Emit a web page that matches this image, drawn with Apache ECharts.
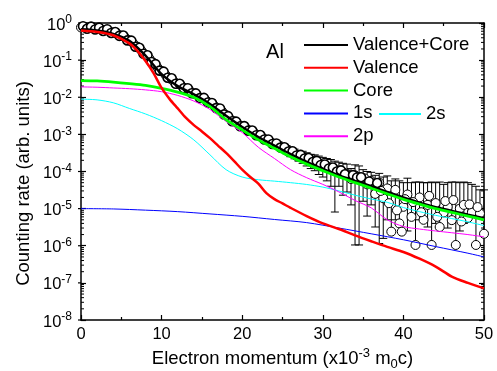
<!DOCTYPE html>
<html><head><meta charset="utf-8">
<script src="https://cdn.jsdelivr.net/npm/echarts@6/dist/echarts.min.js"></script>
<style>html,body{margin:0;padding:0;background:#fff}#c{width:497px;height:371px}</style>
</head><body><div id="c"></div>
<script>
const FONT = "'Liberation Sans', Arial, sans-serif";

// x grid shared by Valence+Core, Core, 2s, 2p
const lineX = [0,2,4,6,8,10,12,14,16,18,20,22,24,26,28,30,32,34,36,38,40,42,44,46,48,50];
const total = [6.8e-1,6.3e-1,5.1e-1,3.3e-1,1.32e-1,4.2e-2,2.0e-2,1.2e-2,6.6e-3,3.16e-3,1.58e-3,8.5e-4,5.0e-4,2.95e-4,1.82e-4,1.17e-4,7.9e-5,5.6e-5,4.0e-5,2.82e-5,2.0e-5,1.45e-5,1.1e-5,8.7e-6,6.9e-6,5.5e-6];
const core = [2.82e-2,2.75e-2,2.57e-2,2.34e-2,2.09e-2,1.74e-2,1.38e-2,1.0e-2,5.6e-3,2.5e-3,1.32e-3,7.1e-4,4.2e-4,2.5e-4,1.58e-4,1.05e-4,7.1e-5,5.0e-5,3.55e-5,2.5e-5,1.78e-5,1.32e-5,1.0e-5,7.9e-6,6.3e-6,5.0e-6];
const p2 = [1.9e-2,1.86e-2,1.78e-2,1.7e-2,1.58e-2,1.41e-2,1.12e-2,7.9e-3,4.7e-3,2.24e-3,1.12e-3,4.5e-4,2.24e-4,1.12e-4,6.8e-5,4.5e-5,2.82e-5,1.66e-5,1.05e-5,5.0e-6,3.3e-6,2.82e-6,2.5e-6,2.24e-6,2.0e-6,1.74e-6];
const s2 = [8.9e-3,8.5e-3,7.1e-3,5.0e-3,3.55e-3,2.34e-3,1.41e-3,7.1e-4,2.82e-4,1.12e-4,7.1e-5,6.0e-5,5.5e-5,5.0e-5,4.47e-5,3.8e-5,3.0e-5,2.3e-5,1.82e-5,1.48e-5,1.07e-5,8.3e-6,6.6e-6,5.4e-6,4.4e-6,3.5e-6];

const s1X = [0,4,8,12,16,20,24,28,32,36,40,44,48,50];
const s1 = [1.0e-5,9.8e-6,9.1e-6,8.3e-6,7.2e-6,6.2e-6,5.1e-6,4.2e-6,3.0e-6,2.1e-6,1.45e-6,9.5e-7,6.3e-7,5.0e-7];

const valX = [0,2,4,6,7,8,9,10,11,12,13,14,15,16,17,18,19,20,21,22,23,24,25,26,28,30,32,34,36,38,40,42,44,46,48,50];
const valence = [6.3e-1,5.75e-1,4.68e-1,2.82e-1,1.78e-1,9.5e-2,4.47e-2,1.78e-2,8.9e-3,5.0e-3,2.82e-3,1.78e-3,1.2e-3,7.9e-4,5.0e-4,3.16e-4,1.9e-4,1.12e-4,7.1e-5,4.7e-5,2.6e-5,1.8e-5,1.38e-5,1.05e-5,6.3e-6,4.0e-6,2.82e-6,1.9e-6,1.32e-6,9.3e-7,6.8e-7,4.47e-7,2.75e-7,1.48e-7,1.0e-7,7.1e-8];

// measured points (open circles)
const expX = [0,0.5,1,1.5,2,2.5,3,3.5,4,4.5,5,5.5,6,6.5,7,7.5,8,8.5,9,9.5,10,10.5,11,11.5,12,12.5,13,13.5,14,14.5,15,15.5,16,16.5,17,17.5,18,18.5,19,19.5,20,20.5,21,21.5,22,22.5,23,23.5,24,24.5,25,25.5,26,26.5,27,27.5,28,28.5,29,29.5,30,30.5,31,31.5,32,32.5,33,33.5,34,34.5,35,35.5,36,36.5,37,37.5,38,38.5,39,39.5,40,40.5,41,41.5,42,42.5,43,43.5,44,44.5,45,45.5,46,46.5,47,47.5,48,48.5,49,49.5,50,
  33.2,35.2,36.2,37.2,38.2,39.2,39.8,40.2,41.2,42.2,43.2,44.2,45.2,46.2,47.2,48.2,49.2];
const expY = [7.6e-1,7.6e-1,7.4e-1,7.4e-1,7.1e-1,6.8e-1,6.5e-1,6.0e-1,5.6e-1,5.1e-1,4.6e-1,4.0e-1,3.4e-1,2.8e-1,2.3e-1,1.8e-1,1.4e-1,1.1e-1,8.3e-2,6.3e-2,5.0e-2,4.0e-2,3.2e-2,2.7e-2,2.3e-2,2.0e-2,1.74e-2,1.51e-2,1.26e-2,1.1e-2,9.5e-3,8.3e-3,7.1e-3,6.0e-3,5.0e-3,4.2e-3,3.3e-3,2.6e-3,2.24e-3,1.9e-3,1.66e-3,1.45e-3,1.26e-3,1.1e-3,9.5e-4,8.3e-4,7.2e-4,6.3e-4,5.6e-4,5.0e-4,4.5e-4,4.0e-4,3.5e-4,3.0e-4,2.75e-4,2.5e-4,2.3e-4,2.0e-4,1.9e-4,1.7e-4,1.5e-4,1.38e-4,1.26e-4,1.12e-4,1.05e-4,9.5e-5,8.7e-5,6.3e-5,7.9e-5,7.1e-5,6.0e-5,4.5e-5,5.6e-5,2.5e-5,5.0e-5,1.9e-5,3.5e-5,2.4e-6,3.2e-5,4.0e-6,1.12e-5,2.4e-5,6.0e-6,1.05e-6,2.0e-5,5.0e-6,1.26e-5,1.05e-6,1.41e-5,3.2e-6,7.9e-6,1.12e-5,4.9e-6,1.05e-6,1.0e-5,1.26e-5,5.6e-6,7.9e-6,1.05e-6,7.4e-6,2.1e-6,
  8.0e-5,6.5e-5,4.8e-5,3.0e-5,1.4e-5,9.0e-6,2.4e-6,1.8e-5,1.5e-5,8.0e-6,2.2e-5,6.0e-6,1.6e-5,1.7e-5,4.5e-6,1.3e-5,1.1e-5];
// further measured points lying between the ones above (dense, scattered band)
const expX2 = [0.25,0.75,1.25,1.75,2.25,2.75,3.25,3.75,4.25,4.75,5.25,5.75,6.25,6.75,7.25,7.75,8.25,8.75,9.25,9.75,10.25,10.75,11.25,11.75,12.25,12.75,13.25,13.75,14.25,14.75,15.25,15.75,16.25,16.75,17.25,17.75,18.25,18.75,19.25,19.75,20.25,20.75,21.25,21.75,22.25,22.75,23.25,23.75,24.25,24.75,25.25,25.75,26.25,26.75,27.25,27.75,28.25,28.75,29.25,29.75,30.25,30.75,31.25,31.75,32.25,32.75,33.75,34.25,34.75,35.75,36.75];
const expY2 = [8.2e-1,7.0e-1,8.0e-1,6.7e-1,7.5e-1,6.1e-1,6.8e-1,5.4e-1,5.7e-1,4.5e-1,4.6e-1,3.4e-1,3.35e-1,2.3e-1,2.15e-1,1.48e-1,1.35e-1,8.9e-2,7.8e-2,5.2e-2,4.9e-2,3.35e-2,3.25e-2,2.3e-2,2.3e-2,1.74e-2,1.75e-2,1.28e-2,1.27e-2,9.5e-3,9.6e-3,7.2e-3,7.0e-3,5.1e-3,5.0e-3,3.45e-3,3.1e-3,2.25e-3,2.2e-3,1.65e-3,1.67e-3,1.26e-3,1.27e-3,9.5e-4,9.6e-4,7.3e-4,7.3e-4,5.5e-4,5.7e-4,4.4e-4,4.5e-4,3.45e-4,3.5e-4,2.7e-4,2.8e-4,2.25e-4,2.3e-4,1.8e-4,1.93e-4,1.5e-4,1.55e-4,1.21e-4,1.28e-4,1.0e-4,1.07e-4,8.4e-5,8.0e-5,6.9e-5,7.0e-5,5.4e-5,4.9e-5];

// error bars
const errX = [24,24.5,25,25.5,26,26.5,27,27.5,28,28.5,29,29.5,30,30.5,31,31.5,32,32.5,33,33.5,34,34.5,35,35.5,36,36.5,37,37.5,38,38.5,39,39.5,40,40.5,41,41.5,42,42.5,43,43.5,44,44.5,45,45.5,46,46.5,47,47.5,48,48.5,49,49.5,50];
const errLo = [4.5e-4,4.0e-4,3.5e-4,3.0e-4,2.5e-4,2.2e-4,1.9e-4,1.66e-4,1.41e-4,1.2e-4,1.05e-4,8.3e-5,7.1e-5,5.6e-5,4.0e-5,8.1e-6,4.0e-5,2.3e-5,2.8e-5,1.26e-5,1.05e-6,1.05e-6,1.58e-5,6.3e-6,1.26e-5,3.2e-6,1.15e-6,1.58e-6,5.0e-6,2.4e-6,5.0e-6,4.0e-6,1.12e-5,2.5e-6,6.0e-6,1.05e-6,5.0e-6,5.0e-6,3.2e-6,1.05e-6,4.0e-6,3.2e-6,7.9e-6,3.0e-6,4.9e-6,1.05e-6,2.5e-6,4.0e-6,5.6e-6,7.9e-6,1.05e-6,7.4e-6,2.1e-6];
const errHi = [6.9e-4,6.3e-4,5.6e-4,5.0e-4,4.5e-4,4.0e-4,3.7e-4,3.5e-4,3.2e-4,2.9e-4,2.8e-4,2.6e-4,2.4e-4,2.24e-4,2.1e-4,1.9e-4,1.78e-4,1.66e-4,1.58e-4,1.2e-4,1.51e-4,1.41e-4,1.12e-4,1.0e-4,9.5e-5,7.9e-5,8.9e-5,7.1e-5,7.6e-5,5.6e-5,6.3e-5,5.6e-5,5.0e-5,6.6e-5,5.0e-5,5.2e-5,5.2e-5,5.0e-5,5.0e-5,5.2e-5,5.0e-5,5.2e-5,4.5e-5,5.0e-5,5.2e-5,5.2e-5,5.0e-5,5.2e-5,5.0e-5,4.5e-5,4.0e-5,3.2e-5,3.2e-5];

const xTicks = [0,10,20,30,40,50];

function zip(xs, ys) { return xs.map((x, i) => [x, ys[i]]); }

const yMinor = [];
for (let k = -8; k < 0; k++) for (let m = 2; m < 10; m++) yMinor.push([0, m * Math.pow(10, k)]);
const yMajor = [];
for (let k = -8; k <= 0; k++) yMajor.push([0, Math.pow(10, k)]);

const axisLineStyle = { color: '#000', width: 1.5 };
const tickStyle = { color: '#000', width: 1.2 };

const chart = echarts.init(document.getElementById('c'), null, { renderer: 'canvas' });

function lineSeries(name, xs, ys, color, width) {
  return {
    type: 'line', name: name, data: zip(xs, ys), symbol: 'none', showSymbol: false,
    smooth: 0.3, xAxisIndex: 0, yAxisIndex: 0,
    lineStyle: { color: color, width: width }, itemStyle: { color: color },
    emphasis: { disabled: true }, silent: true
  };
}

const option = {
  animation: false,
  backgroundColor: '#fff',
  grid: { left: 81, right: 13, top: 23, bottom: 51 },
  xAxis: [
    {
      type: 'value', min: xTicks[0], max: xTicks[xTicks.length - 1], interval: 10, position: 'bottom',
      axisLine: { show: true, onZero: false, lineStyle: axisLineStyle },
      axisTick: { show: true, inside: true, length: 5, lineStyle: tickStyle },
      minorTick: { show: true, splitNumber: 2, length: 3, lineStyle: tickStyle },
      splitLine: { show: false },
      axisLabel: { color: '#000', fontSize: 16.5, fontFamily: FONT, margin: 6 }
    },
    {
      type: 'value', min: xTicks[0], max: xTicks[xTicks.length - 1], interval: 10, position: 'top',
      axisLine: { show: true, onZero: false, lineStyle: axisLineStyle },
      axisTick: { show: true, inside: true, length: 5, lineStyle: tickStyle },
      minorTick: { show: true, splitNumber: 2, length: 3, lineStyle: tickStyle },
      splitLine: { show: false }, axisLabel: { show: false }
    }
  ],
  yAxis: [
    {
      type: 'log', logBase: 10, min: 1e-8, max: 1, interval: 1, position: 'left',
      axisLine: { show: true, onZero: false, lineStyle: axisLineStyle },
      axisTick: { show: true, inside: true, length: 5, lineStyle: tickStyle },
      splitLine: { show: false },
      axisLabel: {
        color: '#000', fontFamily: FONT, margin: 9, showMinLabel: true, showMaxLabel: true,
        padding: [4, 0, 0, 0],
        formatter: function (v) {
          const e = Math.round(Math.log10(v));
          return '{b|10}{s|' + e + '}';
        },
        rich: {
          b: { fontSize: 16.5, fontFamily: FONT, color: '#000', lineHeight: 22, verticalAlign: 'middle' },
          s: { fontSize: 12, fontFamily: FONT, color: '#000', lineHeight: 10, verticalAlign: 'top' }
        }
      }
    },
    {
      type: 'log', logBase: 10, min: 1e-8, max: 1, interval: 1, position: 'right',
      axisLine: { show: true, onZero: false, lineStyle: axisLineStyle },
      axisTick: { show: true, inside: true, length: 5, lineStyle: tickStyle },
      splitLine: { show: false }, axisLabel: { show: false }
    }
  ],
  legend: [
    {
      orient: 'vertical', left: 303, top: 35, padding: 0, itemWidth: 44, itemHeight: 14, itemGap: 2.8,
      selectedMode: false, itemStyle: { opacity: 0 },
      textStyle: { fontSize: 18.5, fontFamily: FONT, color: '#000', lineHeight: 20 },
      data: ['Valence+Core', 'Valence', 'Core', '1s', '2p']
    },
    {
      orient: 'vertical', left: 378, top: 104, padding: 0, itemWidth: 42, itemHeight: 14, itemGap: 2.8,
      selectedMode: false, itemStyle: { opacity: 0 },
      textStyle: { fontSize: 18.5, fontFamily: FONT, color: '#000', lineHeight: 20 },
      data: ['2s']
    }
  ],
  graphic: [
    { type: 'text', x: 275, y: 52, style: { text: 'Al', fontSize: 20, fontFamily: FONT, fill: '#000', align: 'center', verticalAlign: 'middle' } },
    { type: 'text', x: 24, y: 183.5, rotation: Math.PI / 2, style: { text: 'Counting rate (arb. units)', fontSize: 18.5, fontFamily: FONT, fill: '#000', align: 'center', verticalAlign: 'middle' } },
    {
      type: 'text', x: 282.5, y: 359, style: {
        text: '{b|Electron momentum (x10}{sup|-3}{b| m}{sub|0}{b|c)}', align: 'center', verticalAlign: 'middle', fill: '#000',
        rich: {
          b: { fontSize: 18.5, fontFamily: FONT, fill: '#000', lineHeight: 24, verticalAlign: 'middle' },
          sup: { fontSize: 13, fontFamily: FONT, fill: '#000', lineHeight: 10, verticalAlign: 'top' },
          sub: { fontSize: 13, fontFamily: FONT, fill: '#000', lineHeight: 14, verticalAlign: 'bottom' }
        }
      }
    }
  ],
  series: [
    {
      type: 'custom', name: 'yticks', xAxisIndex: 0, yAxisIndex: 0, silent: true,
      data: yMinor.concat(yMajor), encode: { x: 0, y: 1 },
      renderItem: function (params, api) {
        const v = api.value(1);
        const l = api.coord([0, v]), r = api.coord([50, v]);
        const st = { stroke: '#000', lineWidth: 1 };
        const major = params.dataIndex >= yMinor.length;
        if (major) {
          return { type: 'line', shape: { x1: l[0] - 3, y1: l[1], x2: l[0], y2: l[1] }, style: { stroke: '#000', lineWidth: 1.2 } };
        }
        return { type: 'group', children: [
          { type: 'line', shape: { x1: l[0], y1: l[1], x2: l[0] + 3, y2: l[1] }, style: st },
          { type: 'line', shape: { x1: r[0] - 3, y1: r[1], x2: r[0], y2: r[1] }, style: st }
        ] };
      }
    },
    {
      type: 'custom', name: 'err', xAxisIndex: 0, yAxisIndex: 0, silent: true,
      data: errX.map((x, i) => [x, errLo[i], errHi[i]]),
      encode: { x: 0, y: [1, 2] },
      renderItem: function (params, api) {
        const x = api.value(0), lo = api.value(1), hi = api.value(2);
        const a = api.coord([x, hi]), b = api.coord([x, lo]);
        const w = 4;
        const st = { stroke: '#000', lineWidth: 1 };
        return { type: 'group', children: [
          { type: 'line', shape: { x1: a[0], y1: a[1], x2: b[0], y2: b[1] }, style: st },
          { type: 'line', shape: { x1: a[0] - w, y1: a[1], x2: a[0] + w, y2: a[1] }, style: st },
          { type: 'line', shape: { x1: b[0] - w, y1: b[1], x2: b[0] + w, y2: b[1] }, style: st }
        ] };
      }
    },
    {
      type: 'scatter', name: 'exp', xAxisIndex: 0, yAxisIndex: 0,
      data: zip(expX, expY),
      symbol: 'circle', symbolSize: 9, silent: true,
      itemStyle: { color: '#fff', borderColor: '#000', borderWidth: 1, opacity: 1 }
    },
    {
      type: 'scatter', name: 'exp2', xAxisIndex: 0, yAxisIndex: 0,
      data: zip(expX2, expY2),
      symbol: 'circle', symbolSize: 9, silent: true,
      itemStyle: { color: '#fff', borderColor: '#000', borderWidth: 1.6, opacity: 1 }
    },
    lineSeries('Valence+Core', lineX, total, '#000000', 2.5),
    lineSeries('1s', s1X, s1, '#0000ff', 1),
    lineSeries('2s', lineX, s2, '#00ffff', 1),
    lineSeries('2p', lineX, p2, '#ff00ff', 1),
    lineSeries('Core', lineX, core, '#00ff00', 2.8),
    lineSeries('Valence', valX, valence, '#ff0000', 2.5)
  ]
};
chart.setOption(option);
</script>
</body></html>
